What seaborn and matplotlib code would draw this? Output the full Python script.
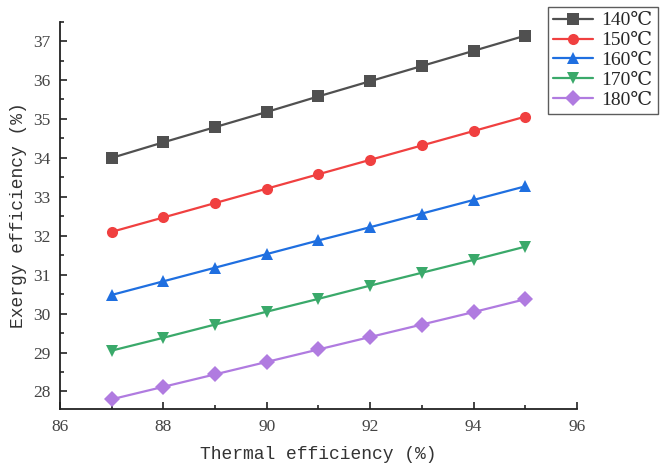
import pandas as pd
import seaborn as sns
import matplotlib.pyplot as plt
from matplotlib.ticker import MultipleLocator

# data
thermal = [87, 88, 89, 90, 91, 92, 93, 94, 95]
t140 = [34.00, 34.40, 34.79, 35.18, 35.58, 35.97, 36.36, 36.75, 37.14]
t150 = [32.10, 32.47, 32.84, 33.21, 33.58, 33.95, 34.32, 34.69, 35.06]
t160 = [30.48, 30.83, 31.18, 31.53, 31.88, 32.22, 32.57, 32.92, 33.27]
t170 = [29.05, 29.38, 29.72, 30.05, 30.38, 30.72, 31.05, 31.38, 31.72]
t180 = [27.80, 28.12, 28.44, 28.76, 29.08, 29.40, 29.72, 30.04, 30.37]
temps = ['140℃', '150℃', '160℃', '170℃', '180℃']

rows = []
for name, vals in zip(temps, [t140, t150, t160, t170, t180]):
    for x, y in zip(thermal, vals):
        rows.append({'Thermal': x, 'Exergy': y, 'Temp': name})
df = pd.DataFrame(rows)

sns.set_style('ticks')
plt.rcParams['font.family'] = ['Liberation Serif', 'DejaVu Serif']

colors = ['#505050', '#f04040', '#1f6fe0', '#3aa96a', '#b07be0']
markers = ['s', 'o', '^', 'v', 'D']

fig = plt.figure(figsize=(6.62, 4.65), dpi=100)
ax = fig.add_axes([0.0906, 0.1204, 0.781, 0.8331])

sns.lineplot(data=df, x='Thermal', y='Exergy', hue='Temp', style='Temp',
             palette=colors, markers=markers, dashes=False, markersize=8,
             markeredgewidth=0, linewidth=1.6, ax=ax)

ax.set_xlim(86, 96)
ax.set_ylim(27.55, 37.5)
ax.xaxis.set_major_locator(MultipleLocator(2))
ax.xaxis.set_minor_locator(MultipleLocator(1))
ax.yaxis.set_major_locator(MultipleLocator(1))
ax.yaxis.set_minor_locator(MultipleLocator(0.5))
ax.tick_params(which='major', direction='in', length=5, width=1.2, labelsize=12.5,
               colors='#222222', pad=7)
ax.tick_params(which='minor', direction='in', length=3, width=1.2)
for tl in ax.get_xticklabels() + ax.get_yticklabels():
    tl.set_color('#444444')
sns.despine(ax=ax)
for s in ['left', 'bottom']:
    ax.spines[s].set_linewidth(1.3)
    ax.spines[s].set_color('#222222')

ax.set_xlabel('Thermal efficiency (%)', fontsize=13, color='#333333', labelpad=8,
              family=['Liberation Mono', 'DejaVu Sans Mono'])
ax.set_ylabel('Exergy efficiency (%)', fontsize=13, color='#333333', labelpad=4,
              family=['Liberation Mono', 'DejaVu Sans Mono'])

leg = ax.legend(loc='upper left', bbox_to_anchor=(0.944, 1.038), fontsize=14,
                frameon=True, fancybox=False, borderpad=0.25, labelspacing=0.12,
                handlelength=2.05, handletextpad=0.45, borderaxespad=0)
leg.get_frame().set_edgecolor('#333333')
leg.get_frame().set_linewidth(1.0)

fig.savefig('out.png', dpi=100)
